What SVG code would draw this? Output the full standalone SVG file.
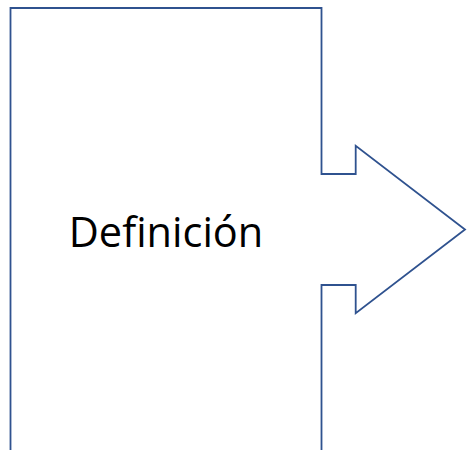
<svg xmlns="http://www.w3.org/2000/svg" width="467" height="450" viewBox="0 0 467 450">
<style>
.shape{fill:#FFFFFF;stroke:#2F528F;stroke-width:1.8;stroke-linejoin:miter}
.label{font-family:"Open Sans","Liberation Sans",sans-serif;font-size:41.5px;fill:#000000}
</style>
<g id="callout">
<path class="shape" d="M10.5,8 L321.5,8 L321.5,174 L355.7,174 L355.7,145.7 L465,229.5 L355.7,313.3 L355.7,285 L321.5,285 L321.5,452 L10.5,452 Z"/>
<text class="label" x="166" y="247" text-anchor="middle">Definición</text>
</g>
<g id="connectors"/>
</svg>
